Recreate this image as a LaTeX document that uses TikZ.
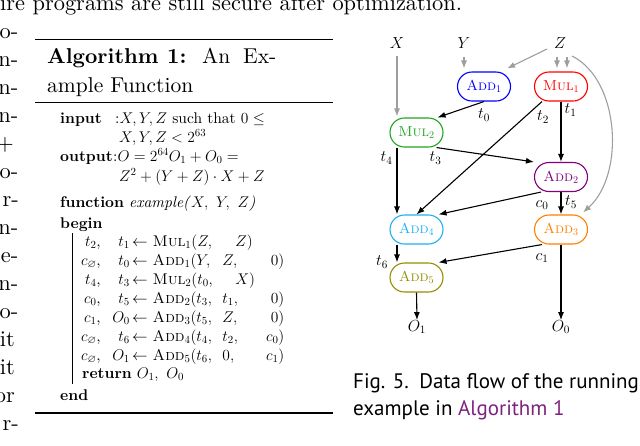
\RequirePackage{fix-cm}
\documentclass[tikz,border=0pt]{standalone}
\usepackage{amsmath,amssymb}
\usepackage{fontspec}
\setmainfont{lmroman10-regular.otf}[BoldFont=lmroman10-bold.otf, ItalicFont=lmroman10-italic.otf, BoldItalicFont=lmroman10-bolditalic.otf, SmallCapsFont=lmromancaps10-regular.otf]
\newfontfamily\capfont{PT Sans}
\usetikzlibrary{arrows.meta,calc}
\definecolor{linkpurple}{RGB}{125,35,125}
\definecolor{cMulTwo}{RGB}{30,165,30}
\definecolor{cAddTwo}{RGB}{128,0,128}
\definecolor{cAddFour}{RGB}{30,175,240}
\definecolor{cAddThree}{RGB}{255,128,0}
\definecolor{cAddFive}{RGB}{150,140,0}
\definecolor{inpgray}{RGB}{158,158,158}
\newcommand{\argsiii}[3]{\makebox[26pt][l]{$#1,$}\makebox[26pt][l]{$#2,$}\makebox[30pt][r]{$#3$}$)$}
\newcommand{\argsii}[2]{\makebox[38pt][l]{$#1,$}$#2)$}
\tikzset{
 body/.style={anchor=base west, inner sep=0pt, font=\fontsize{22.4}{28}\selectfont},
 bodyr/.style={anchor=base east, inner sep=0pt, font=\fontsize{22.4}{28}\selectfont},
 ttl/.style={anchor=base west, inner sep=0pt, font=\fontsize{21.5}{26}\selectfont},
 algo/.style={anchor=base west, inner sep=0pt, font=\fontsize{15.5}{19}\selectfont},
 algor/.style={anchor=base east, inner sep=0pt, font=\fontsize{15.5}{19}\selectfont},
 capt/.style={anchor=base west, inner sep=0pt, font=\capfont\fontsize{21}{27}\selectfont},
 op/.style={draw, line width=1.1pt, rounded corners=14.5pt, minimum width=53pt, minimum height=29pt, inner sep=0pt, font=\fontsize{14.5}{17}\selectfont},
 var/.style={inner sep=0pt, font=\fontsize{16}{19}\selectfont},
 lbl/.style={inner sep=0pt, font=\fontsize{16}{19}\selectfont},
 flow/.style={-{Latex[length=8pt,width=6pt]}, line width=1.1pt},
 inp/.style={flow, draw=inpgray, -{Latex[length=8pt,width=6pt,fill=inpgray]}},
 rule/.style={line width=1.3pt},
}
\begin{document}
\begin{tikzpicture}[x=1pt,y=-1pt]
\useasboundingbox (0,0) rectangle (640,445);
% running text
\node[body] (top) at (0,10) {ire programs are still secure after optimization.};
\node[bodyr] (l1) at (18.5,38) {o-};
\node[bodyr] (l2) at (18.5,66) {n-};
\node[bodyr] (l3) at (18.5,94) {n-};
\node[bodyr] (l4) at (18.5,122) {n-};
\node[bodyr] (l5) at (14,150) {+};
\node[bodyr] (l6) at (18.5,178) {o-};
\node[bodyr] (l7) at (19,206) {r-};
\node[bodyr] (l8) at (18.5,234) {n-};
\node[bodyr] (l9) at (18.5,262) {e-};
\node[bodyr] (l10) at (18.5,290) {n-};
\node[bodyr] (l11) at (18.5,318) {o-};
\node[bodyr] (l12) at (15,346) {it};
\node[bodyr] (l13) at (15,374) {it};
\node[bodyr] (l14) at (15,402) {or};
\node[bodyr] (l15) at (19,430) {r-};
% algorithm box
\draw[rule] (35,39.5) -- (333,39.5);
\node[ttl] (t1) at (47,63) {\textbf{Algorithm}};
\node[ttl] (t2) at (167,63) {\textbf{1:}};
\node[ttl] (t3) at (202,63) {An};
\node[ttl] (t4) at (243,63) {Ex-};
\node[ttl] (t5) at (47,92) {ample Function};
\draw[line width=0.8pt] (35,102.7) -- (333,102.7);
\node[algo] (in1) at (60,123) {\textbf{input}};
\node[algo] (in2) at (115,123) {:$X, Y, Z$ such that $0 \leq$};
\node[algo] (in3) at (119,142) {$X, Y, Z < 2^{63}$};
\node[algo] (out1) at (60,161) {\textbf{output}};
\node[algo] (out2) at (113,161) {:$O = 2^{64}O_1 + O_0 =$};
\node[algo] (out3) at (119,181) {$Z^2 + (Y + Z)\cdot X + Z$};
\node[algo] (fn) at (60,207) {\textbf{function} \textit{example(}$X,\ Y,\ Z$\textit{)}};
\node[algo] (bg) at (60,228) {\textbf{begin}};
\draw[line width=0.8pt] (72,233) -- (72,384);
% lines
\node[algor] (a1) at (101,246) {$t_2$,};
\node[algor] (b1) at (130,246) {$t_1$};
\node[algo] (c1) at (132,246) {$\gets$\hspace{5pt}\textsc{Mul}$_1($\argsii{Z}{Z}};
\node[algor] (a2) at (101,265) {$c_\varnothing$,};
\node[algor] (b2) at (130,265) {$t_0$};
\node[algo] (c2) at (132,265) {$\gets$\hspace{5pt}\textsc{Add}$_1($\argsiii{Y}{Z}{0}};
\node[algor] (a3) at (101,284) {$t_4$,};
\node[algor] (b3) at (130,284) {$t_3$};
\node[algo] (c3) at (132,284) {$\gets$\hspace{5pt}\textsc{Mul}$_2($\argsii{t_0}{X}};
\node[algor] (a4) at (101,303) {$c_0$,};
\node[algor] (b4) at (130,303) {$t_5$};
\node[algo] (c4) at (132,303) {$\gets$\hspace{5pt}\textsc{Add}$_2($\argsiii{t_3}{t_1}{0}};
\node[algor] (a5) at (101,322) {$c_1$,};
\node[algor] (b5) at (130,322) {$O_0$};
\node[algo] (c5) at (132,322) {$\gets$\hspace{5pt}\textsc{Add}$_3($\argsiii{t_5}{Z}{0}};
\node[algor] (a6) at (101,341) {$c_\varnothing$,};
\node[algor] (b6) at (130,341) {$t_6$};
\node[algo] (c6) at (132,341) {$\gets$\hspace{5pt}\textsc{Add}$_4($\argsiii{t_4}{t_2}{c_0}};
\node[algor] (a7) at (101,360) {$c_\varnothing$,};
\node[algor] (b7) at (130,360) {$O_1$};
\node[algo] (c7) at (132,360) {$\gets$\hspace{5pt}\textsc{Add}$_5($\argsiii{t_6}{0}{c_1}};
\node[algo] (ret) at (82,378) {\textbf{return} $O_1,\ O_0$};
\node[algo] (en) at (60,400) {\textbf{end}};
\draw[rule] (35,413) -- (333,413);
% data flow graph
\node[var] (X) at (397,43) {$X$};
\node[var] (Y) at (464,43) {$Y$};
\node[var] (Z) at (560,43) {$Z$};
\node[op,draw=blue,text=blue] (A1) at (484,86.5) {\textsc{Add}$_1$};
\node[op,draw=red,text=red] (M1) at (561,86.5) {\textsc{Mul}$_1$};
\node[op,draw=cMulTwo,text=cMulTwo] (M2) at (416.5,132.5) {\textsc{Mul}$_2$};
\node[op,draw=cAddTwo,text=cAddTwo] (A2) at (561,177) {\textsc{Add}$_2$};
\node[op,draw=cAddFour,text=cAddFour] (A4) at (416.5,229.5) {\textsc{Add}$_4$};
\node[op,draw=cAddThree,text=cAddThree] (A3) at (561,229.5) {\textsc{Add}$_3$};
\node[op,draw=cAddFive,text=cAddFive] (A5) at (416.5,277.5) {\textsc{Add}$_5$};
\node[var] (O1) at (417,327) {$O_1$};
\node[var] (O0) at (561,327) {$O_0$};
% inputs
\draw[inp] ($(X.center)+(0,13)$) -- ($(M2.north)+(-19.5,-1)$);
\draw[inp] ($(Y.center)+(0,14)$) -- ($(A1.north)+(-20,-3)$);
\draw[inp] ($(Z.center)+(-13,6)$) -- ($(A1.north east)+(-4,-3)$);
\draw[inp] ($(Z.center)+(-3,14)$) -- ($(M1.north)+(-4,-3)$);
\draw[inp] ($(Z.center)+(7,14)$) -- ($(M1.north)+(6,-3)$);
\draw[inp] ($(Z.center)+(12,13)$) .. controls (620,80) and (625,175) .. ($(A3.north east)+(-5,-2)$);
% flows
\draw[flow] (A1.south) -- ($(M2.north east)+(-6,0)$);
\draw[flow] ($(M1.south)+(-19,0)$) -- (A4.north);
\draw[flow] (M1.south) -- (A2.north);
\draw[flow] ($(M2.south east)+(-7,0)$) -- (A2.north west);
\draw[flow] ($(M2.south)+(-19.5,0)$) -- ($(A4.north)+(-19.5,0)$);
\draw[flow] ($(A2.south)+(-20,0)$) -- ($(A4.north east)+(-5,0)$);
\draw[flow] (A2.south) -- (A3.north);
\draw[flow] ($(A4.south)+(-19.5,0)$) -- ($(A5.north)+(-19.5,0)$);
\draw[flow] ($(A3.south)+(-19,0)$) -- ($(A5.north east)+(-5,0)$);
\draw[flow] (A3.south) -- (O0.north);
\draw[flow] (A5.south) -- (O1.north);
% labels
\node[lbl] (lt0) at (484,115) {$t_0$};
\node[lbl] (lt2) at (543,117) {$t_2$};
\node[lbl] (lt1) at (570.5,110) {$t_1$};
\node[lbl] (lt4) at (386.5,158) {$t_4$};
\node[lbl] (lt3) at (435.5,158) {$t_3$};
\node[lbl] (lc0) at (542,205) {$c_0$};
\node[lbl] (lt5) at (571,202) {$t_5$};
\node[lbl] (lt6) at (382,262) {$t_6$};
\node[lbl] (lc1) at (542,258) {$c_1$};
% caption
\node[capt] (cap1) at (353,388) {Fig. 5.\enspace Data flow of the running};
\node[capt] (cap2) at (353,415) {example in \textcolor{linkpurple}{Algorithm 1}};
\end{tikzpicture}
\end{document}
